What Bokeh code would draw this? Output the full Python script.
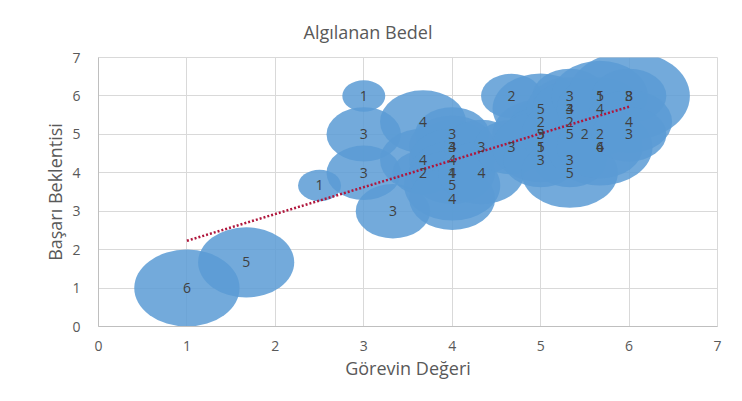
from bokeh.plotting import figure
from bokeh.models import ColumnDataSource, Range1d, FixedTicker
from bokeh.core.properties import value
from bokeh.embed import file_html
from bokeh.resources import INLINE
import math

# Data: (Görevin Değeri, Başarı Beklentisi, bubble size = count)
gorev = [1, 1.67, 2.5, 3, 3, 3, 3.33, 3.67, 3.67, 3.67,
         4, 4, 4, 4, 4, 4, 4, 4, 4.33, 4.33,
         4.67, 4.67, 5, 5, 5, 5, 5, 5, 5,
         5.33, 5.33, 5.33, 5.33, 5.33, 5.33, 5.33, 5.5,
         5.67, 5.67, 5.67, 5.67, 5.67, 5.67,
         6, 6, 6, 6]
basari = [1, 1.67, 3.67, 6, 5, 4, 3, 5.33, 4.33, 4,
          5, 4.67, 4.67, 4.33, 4, 4, 3.67, 3.33, 4.67, 4,
          6, 4.67, 5.67, 5.33, 5, 5, 4.67, 4.67, 4.33,
          6, 5.67, 5.67, 5.33, 5, 4.33, 4, 5,
          6, 6, 5.67, 5, 4.67, 4.67,
          6, 6, 5.33, 5]
sizes = [6, 5, 1, 1, 3, 3, 3, 4, 4, 2,
         3, 3, 4, 4, 4, 1, 5, 4, 3, 4,
         2, 3, 5, 2, 5, 3, 5, 1, 3,
         3, 4, 3, 2, 5, 3, 5, 2,
         5, 1, 4, 2, 6, 4,
         8, 3, 4, 3]

trend_x = [1, 6]
trend_y = [2.23, 5.72]

ticks = [0, 1, 2, 3, 4, 5, 6, 7]

title_text = "Algılanan Bedel"
x_title = "Görevin Değeri"
y_title = "Başarı Beklentisi"

FONT = "Open Sans"
GRAY = "#595959"

src = ColumnDataSource(dict(
    x=gorev, y=basari,
    w=[43.0 * math.sqrt(s) for s in sizes],
    h=[31.4 * math.sqrt(s) for s in sizes],
    label=[str(s) for s in sizes],
))

p = figure(width=726, height=393, output_backend="svg", toolbar_location=None,
           x_range=Range1d(0, 7), y_range=Range1d(0, 7),
           min_border_left=98, min_border_right=9,
           min_border_top=57, min_border_bottom=67)

p.title.text = title_text
p.title.align = "left"
p.title.offset = 205
p.title.standoff = 28
p.title.text_font = FONT
p.title.text_font_size = "18px"
p.title.text_font_style = "normal"
p.title.text_color = GRAY

p.ellipse(x="x", y="y", width="w", height="h", width_units="screen",
          height_units="screen", source=src, fill_color="#5B9BD5",
          fill_alpha=0.85, line_color=None)

p.line(trend_x, trend_y, line_color="#B0163C", line_width=2.5, line_dash="2 2")

p.text(x="x", y="y", text="label", source=src, text_align="center",
       text_baseline="middle", text_font=value(FONT), text_font_size="14px",
       text_color="#404040")

for ax in (p.xaxis[0], p.yaxis[0]):
    ax.ticker = FixedTicker(ticks=ticks)
    ax.major_tick_line_color = None
    ax.minor_tick_line_color = None
    ax.axis_line_color = "#bfbfbf"
    ax.major_label_text_font = FONT
    ax.major_label_text_font_size = "14px"
    ax.major_label_text_color = GRAY
    ax.axis_label_text_font = FONT
    ax.axis_label_text_font_size = "18px"
    ax.axis_label_text_font_style = "normal"
    ax.axis_label_text_color = GRAY

p.xaxis.axis_label = x_title
p.yaxis.axis_label = y_title
p.xaxis.major_label_standoff = 8
p.yaxis.major_label_standoff = 12
p.xaxis.axis_label_standoff = 2
p.yaxis.axis_label_standoff = 2

p.xgrid.grid_line_color = "#d9d9d9"
p.ygrid.grid_line_color = "#d9d9d9"
p.outline_line_color = "#d9d9d9"

open("out.html", "w").write(file_html(p, INLINE))
